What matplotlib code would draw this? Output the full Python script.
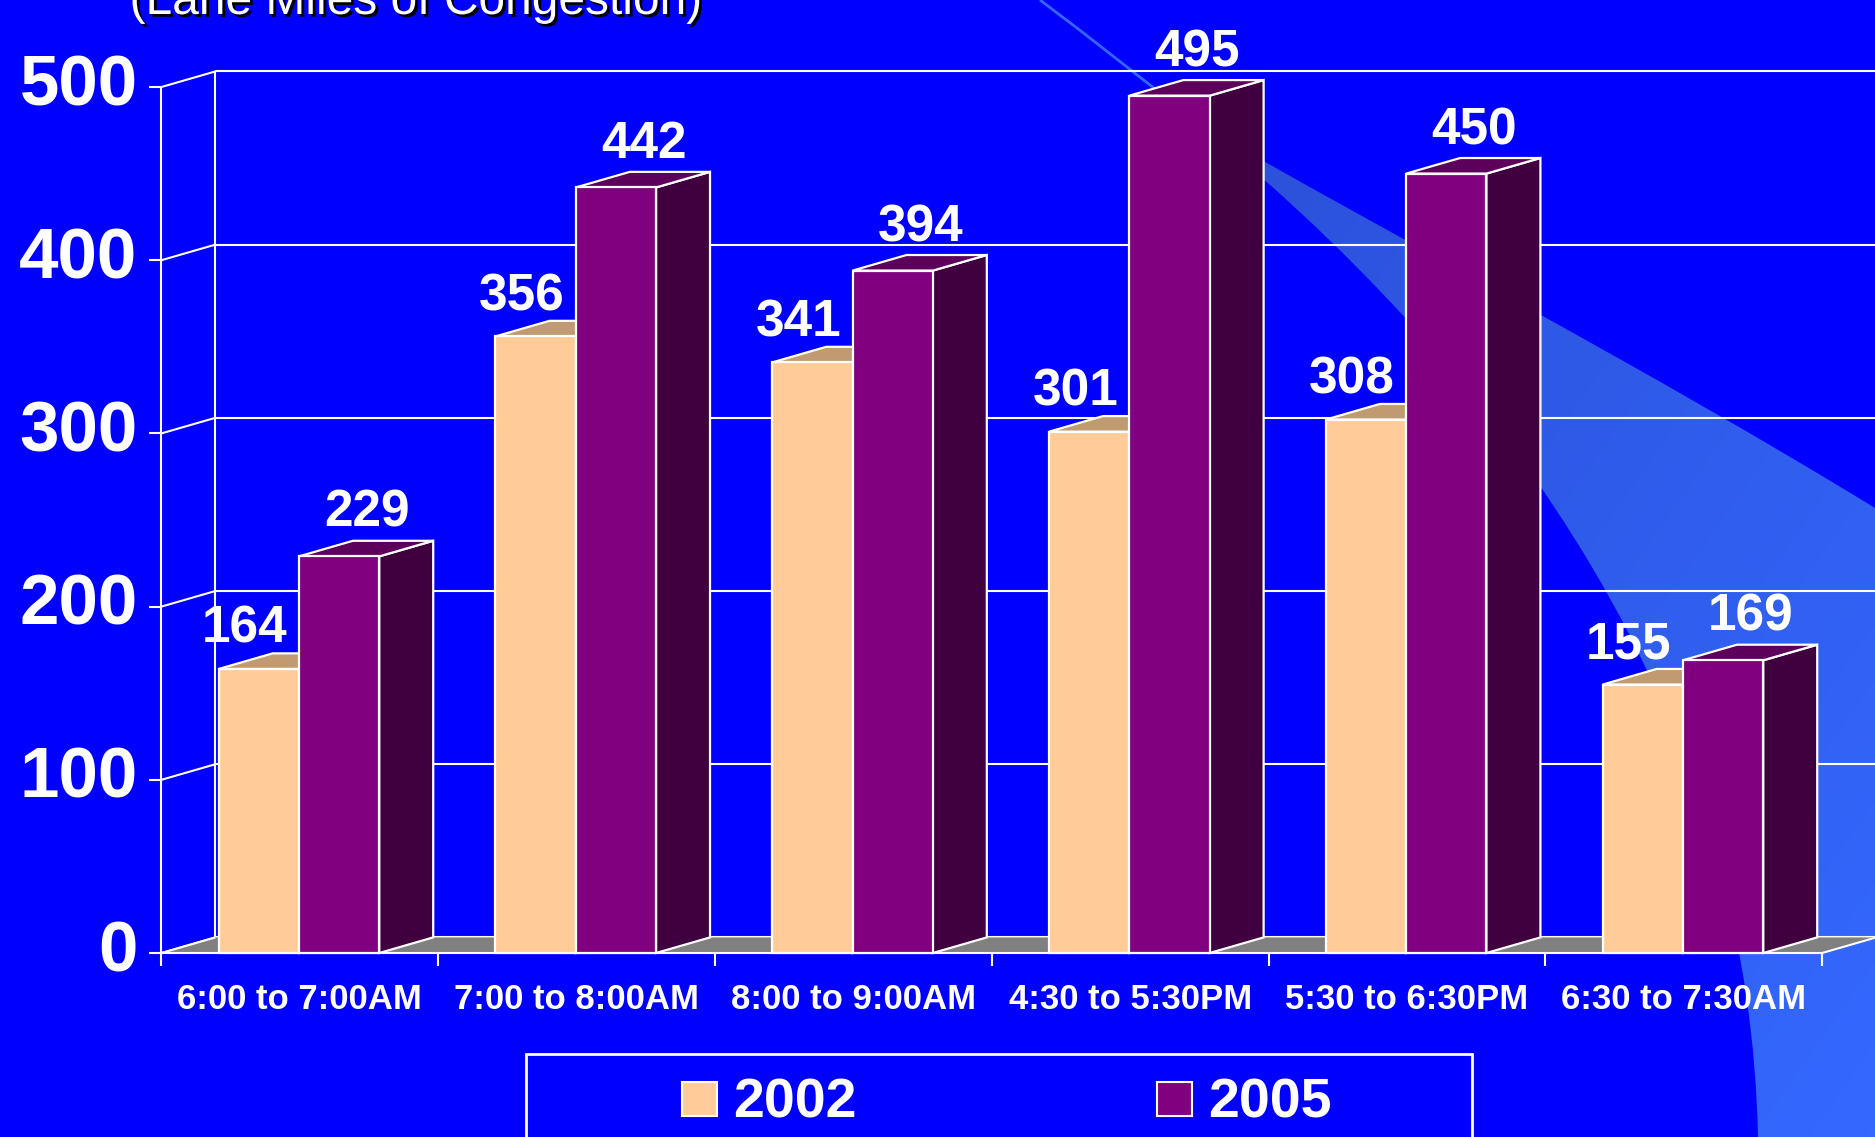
import numpy as np
import matplotlib.pyplot as plt
from matplotlib.patches import Polygon, Rectangle, PathPatch
from matplotlib.path import Path
from matplotlib.colors import LinearSegmentedColormap
import matplotlib.patheffects as pe

plt.rcParams['font.family'] = ['Liberation Sans', 'DejaVu Sans']

# lane miles of congestion by time period
periods = ['6:00 to 7:00AM', '7:00 to 8:00AM', '8:00 to 9:00AM',
           '4:30 to 5:30PM', '5:30 to 6:30PM', '6:30 to 7:30AM']
miles_2002 = [164, 356, 341, 301, 308, 155]
miles_2005 = [229, 442, 394, 495, 450, 169]
y_ticks = [0, 100, 200, 300, 400, 500]
years = ['2002', '2005']

W, H = 1875, 1137
fig = plt.figure(figsize=(W / 100, H / 100), dpi=100)
fig.patch.set_facecolor('#0000FF')
ax = fig.add_axes([0, 0, 1, 1])
ax.axis('off')

# front plane: category 0..6 and value 0..500
x0_px, ux = 161.4, 276.8
y0_px, uy = 953.0, 1.732
ax.set_xlim(-x0_px / ux, (W - x0_px) / ux)
ax.set_ylim((y0_px - H) / uy, y0_px / uy)

DX, DY = 0.195, 9.0      # depth offset of the 3d box
n = len(periods)


def fp(x, y):
    # pixel position (from top-left) -> figure fraction
    return (x / W, 1 - y / H)


# light blue swoosh in the background
verts = [fp(1200, 125), fp(1400, 240), fp(1650, 370), fp(1875, 508),
         fp(1875, 1137), fp(1758, 1137),
         fp(1750, 760), fp(1560, 420), fp(1200, 125), fp(1200, 125)]
codes = [Path.MOVETO, Path.CURVE4, Path.CURVE4, Path.CURVE4,
         Path.LINETO, Path.LINETO,
         Path.CURVE4, Path.CURVE4, Path.CURVE4, Path.CLOSEPOLY]
band = PathPatch(Path(verts, codes), facecolor='none', edgecolor='none',
                 transform=fig.transFigure)
ax.add_patch(band)
gx, gy = np.meshgrid(np.linspace(0, 1, 200), np.linspace(0, 1, 200))
grad = (gx + (1 - gy)) / 2
cmap = LinearSegmentedColormap.from_list('swoosh', ['#2B4FD6', '#3468FF'])
img = ax.imshow(grad, cmap=cmap, extent=(1150 / W, 1, 0, 1 - 100 / H),
                transform=fig.transFigure, origin='lower', zorder=1,
                aspect='auto', interpolation='bilinear')
img.set_clip_path(band)
line_path = Path([fp(1040, 0), fp(1120, 60), fp(1200, 125)],
                 [Path.MOVETO, Path.CURVE3, Path.CURVE3])
ax.add_patch(PathPatch(line_path, facecolor='none', edgecolor='#3366FF',
                       lw=2, transform=fig.transFigure, zorder=1))

# walls, gridlines and ticks
wl = dict(color='white', lw=1.5, zorder=2, solid_capstyle='butt')
for v in y_ticks:
    ax.plot([DX, n + DX], [v + DY, v + DY], **wl)
    ax.plot([0, DX], [v, v + DY], **wl)
    ax.plot([-0.043, 0], [v, v], **wl)
    ax.text(-0.086, v, str(v), ha='right', va='center', color='white',
            fontsize=51, fontweight='bold', zorder=6)
ax.plot([0, 0], [0, y_ticks[-1]], **wl)
ax.plot([DX, DX], [DY, y_ticks[-1] + DY], **wl)

# floor
ax.add_patch(Polygon([(0, 0), (n, 0), (n + DX, DY), (DX, DY)],
                     closed=True, facecolor='#808080', edgecolor='none',
                     zorder=3))
ax.plot([0, n], [0, 0], **dict(wl, zorder=3))
ax.plot([0, DX], [0, DY], **dict(wl, zorder=3))
ax.plot([n, n + DX], [0, DY], **dict(wl, zorder=3))
for i in range(n + 1):
    ax.plot([i, i], [0, -7.5], **wl)

for i, p in enumerate(periods):
    ax.text(i + 0.5, -27, p, ha='center', va='center', color='white',
            fontsize=25, fontweight='bold', zorder=6)


def bar3d(x, w, v, front, top, side, z):
    ek = dict(edgecolor='white', lw=1.6, zorder=z, joinstyle='miter')
    ax.add_patch(Polygon([(x + w, 0), (x + w + DX, DY), (x + w + DX, v + DY),
                          (x + w, v)], facecolor=side, **ek))
    ax.add_patch(Polygon([(x, v), (x + DX, v + DY), (x + w + DX, v + DY),
                          (x + w, v)], facecolor=top, **ek))
    ax.add_patch(Rectangle((x, 0), w, v, facecolor=front, **ek))


bw = 0.29
for i in range(n):
    xa = i + 0.207
    xb = xa + bw
    bar3d(xa, bw, miles_2002[i], '#FFCC99', '#C09A70', '#A07850', 4)
    bar3d(xb, bw, miles_2005[i], '#800080', '#5C005C', '#400040', 5)
    ax.text(xa + bw / 2 - 0.05, miles_2002[i] + DY + 6, str(miles_2002[i]),
            ha='center', va='baseline', color='white', fontsize=37,
            fontweight='bold', zorder=6)
    ax.text(xb + bw / 2 + 0.1, miles_2005[i] + DY + 8, str(miles_2005[i]),
            ha='center', va='baseline', color='white', fontsize=37,
            fontweight='bold', zorder=6)

# title (partly above the slide)
fig.text(416 / W, 1 - 14 / H, '(Lane Miles of Congestion)', ha='center',
         va='baseline', color='white', fontsize=34.5,
         path_effects=[pe.SimplePatchShadow(offset=(2, -2),
                                            shadow_rgbFace='black', alpha=1),
                       pe.Normal()])

# legend box
fig.patches.append(Rectangle(fp(526, 1150), 946 / W, 96 / H,
                             transform=fig.transFigure, facecolor='none',
                             edgecolor='white', lw=2))
for lbl, col, px in zip(years, ['#FFCC99', '#800080'], [682, 1157]):
    fig.patches.append(Rectangle(fp(px, 1116), 35 / W, 34 / H,
                                 transform=fig.transFigure, facecolor=col,
                                 edgecolor='white', lw=1.5))
    fig.text((px + 51) / W, 1 - 1118 / H, lbl, ha='left', va='baseline',
             color='white', fontsize=40, fontweight='bold')

fig.savefig('out.png', dpi=100, facecolor=fig.get_facecolor())
